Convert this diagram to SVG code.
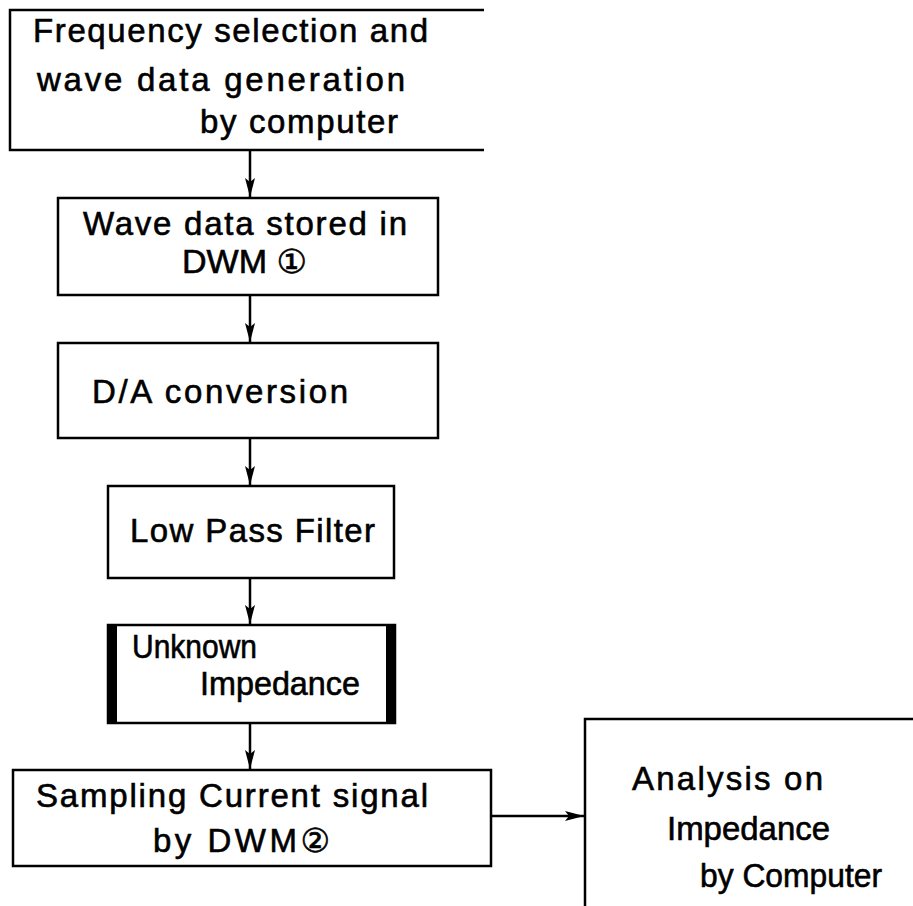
<svg xmlns="http://www.w3.org/2000/svg" width="913" height="906" viewBox="0 0 913 906">
  <style>
    .box { fill: none; stroke: #000; stroke-width: 2.5; }
    .edge { fill: none; stroke: #000; stroke-width: 2.5; }
    .bar { fill: #000; }
    text { font-family: "Liberation Sans", "DejaVu Sans", sans-serif; font-size: 33px; fill: #000; stroke: #000; stroke-width: 0.6; }
  </style>
  <defs>
    <!-- narrow filled arrowhead, tip at the end of the line -->
    <marker id="arrow" markerUnits="userSpaceOnUse" markerWidth="20" markerHeight="12" refX="19" refY="6" orient="auto" viewBox="0 0 20 12">
      <path d="M0,1 L19,6 L0,11 L4,6 Z" fill="#000"/>
    </marker>
  </defs>

  <!-- flowchart blocks -->
  <g id="node-generation">
    <path class="box" d="M484,10 H10 V150 H484"/>
    <text x="33" y="42" textLength="395" lengthAdjust="spacing">Frequency selection and</text>
    <text x="37" y="91" textLength="368" lengthAdjust="spacing">wave data generation</text>
    <text x="200" y="133" textLength="198" lengthAdjust="spacing">by computer</text>
  </g>

  <g id="node-store">
    <rect class="box" x="58" y="198" width="380" height="97"/>
    <text x="83" y="235" textLength="324" lengthAdjust="spacing">Wave data stored in</text>
    <text x="182" y="273" textLength="125" lengthAdjust="spacingAndGlyphs">DWM ①</text>
  </g>

  <g id="node-da">
    <rect class="box" x="58" y="343" width="380" height="95"/>
    <text x="92" y="403" textLength="256" lengthAdjust="spacing">D/A conversion</text>
  </g>

  <g id="node-lpf">
    <rect class="box" x="108" y="486" width="286" height="92"/>
    <text x="130" y="542" textLength="245" lengthAdjust="spacing">Low Pass Filter</text>
  </g>

  <g id="node-impedance">
    <rect class="box" x="108" y="625" width="287" height="98"/>
    <rect class="bar" x="107" y="624" width="10" height="100"/>
    <rect class="bar" x="386" y="624" width="10" height="100"/>
    <text x="132" y="658" textLength="125" lengthAdjust="spacingAndGlyphs">Unknown</text>
    <text x="200" y="695" textLength="160" lengthAdjust="spacingAndGlyphs">Impedance</text>
  </g>

  <g id="node-sampling">
    <rect class="box" x="13" y="770" width="478" height="96"/>
    <text x="36" y="807" textLength="392" lengthAdjust="spacing">Sampling Current signal</text>
    <text x="153" y="852" textLength="177" lengthAdjust="spacing">by DWM②</text>
  </g>

  <g id="node-analysis">
    <path class="box" d="M585,906 V719 H913"/>
    <text x="632" y="790" textLength="191" lengthAdjust="spacing">Analysis on</text>
    <text x="667" y="840" textLength="163" lengthAdjust="spacingAndGlyphs">Impedance</text>
    <text x="700" y="887" textLength="182" lengthAdjust="spacingAndGlyphs">by Computer</text>
  </g>

  <!-- connectors -->
  <g id="connectors">
    <line class="edge" x1="250" y1="150" x2="250" y2="197" marker-end="url(#arrow)"/>
    <line class="edge" x1="250" y1="295" x2="250" y2="342" marker-end="url(#arrow)"/>
    <line class="edge" x1="250" y1="438" x2="250" y2="485" marker-end="url(#arrow)"/>
    <line class="edge" x1="250" y1="578" x2="250" y2="624" marker-end="url(#arrow)"/>
    <line class="edge" x1="250" y1="723" x2="250" y2="769" marker-end="url(#arrow)"/>
    <line class="edge" x1="491" y1="816" x2="584" y2="816" marker-end="url(#arrow)"/>
  </g>
</svg>
